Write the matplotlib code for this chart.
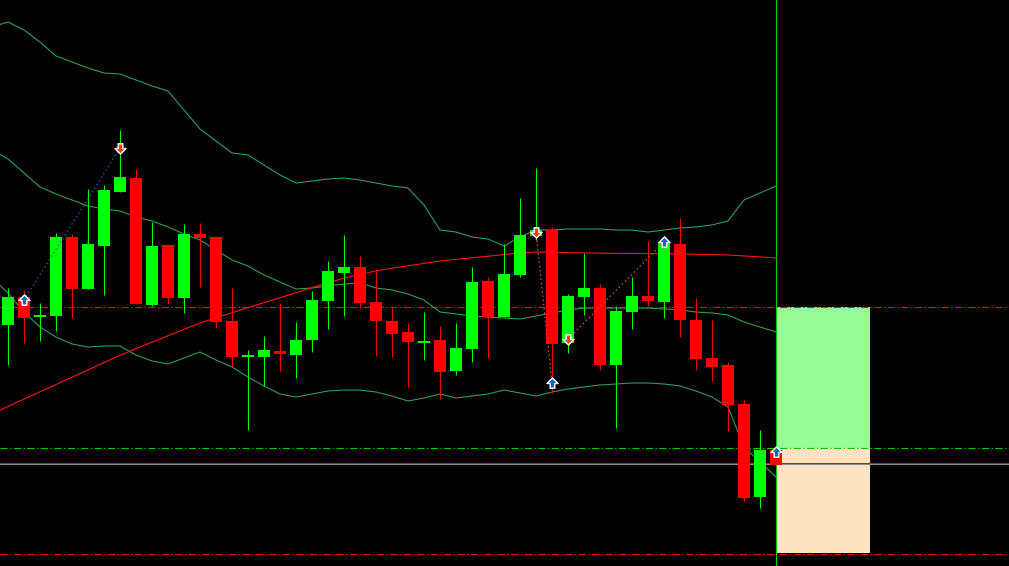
import numpy as np
import matplotlib
matplotlib.use("Agg")
import matplotlib.pyplot as plt
from matplotlib.path import Path
from matplotlib.patches import Rectangle

# candles (open, high, low, close), one per bar
opens = [275, 303, 284, 284, 363, 311, 354, 408, 422, 295, 355, 302, 366, 363, 279, 244,
         243, 249, 245, 260, 299, 327, 333, 298, 279, 268, 258, 260, 229, 251, 319, 283,
         325, 364, 370, 257, 303, 312, 235, 288, 304, 298, 356, 280, 242, 235, 196, 103, 150]
highs = [312, 310, 297, 367, 366, 411, 415, 470, 431, 378, 355, 376, 377, 363, 312, 250,
         264, 297, 278, 309, 339, 365, 344, 330, 293, 277, 288, 274, 277, 333, 323, 356,
         402, 432, 373, 306, 347, 316, 294, 323, 359, 364, 382, 302, 280, 238, 200, 170, 150]
lows = [235, 257, 259, 269, 282, 311, 305, 408, 296, 294, 296, 287, 313, 272, 233, 170,
        214, 229, 222, 248, 271, 284, 292, 244, 243, 213, 240, 201, 225, 238, 242, 283,
        323, 360, 207, 247, 285, 230, 172, 271, 294, 282, 263, 230, 219, 169, 99, 92, 135]
closes = [303, 282, 285, 363, 311, 356, 410, 423, 296, 354, 302, 366, 362, 278, 243, 245,
          250, 246, 260, 300, 329, 333, 297, 279, 266, 258, 259, 228, 252, 318, 283, 326,
          365, 370, 256, 304, 312, 235, 289, 304, 299, 358, 280, 241, 233, 195, 102, 150, 135]

# indicators, bar -1 .. 48
ma_line = [186, 193.6, 200.9, 208.2, 215.5, 222.8, 230.1, 237.4, 244.7, 251.4, 257.8, 264.2,
           270.6, 277, 282.1, 287.2, 292.4, 297.4, 302.3, 307.3, 312.3, 317.3, 321.9, 325.5,
           329.1, 331.8, 334.2, 336.6, 339, 340.6, 342.2, 343.8, 345.4, 347, 348, 347.6, 347.4,
           347.1, 346.9, 346.7, 346.6, 346.4, 346.3, 346.1, 345.8, 345.4, 345, 344.1, 343.1, 342]
bb_upper = [573, 578, 570, 558, 544, 538, 532, 527, 526, 520, 514, 509, 490, 471, 459, 447,
            445, 435, 425, 417, 419, 421, 422, 420, 417, 414, 412, 395, 370, 368, 363, 361,
            354, 363, 370, 370, 371, 371, 371, 370, 370, 368, 370, 372, 373, 375, 379, 400,
            407, 414]
bb_mid = [450, 441, 427, 413, 406, 400, 394, 391, 389, 383, 379, 373, 366, 360, 350, 340,
          334, 325, 318, 311, 312, 314, 316, 317, 312, 310, 306, 300, 288, 286, 284, 283,
          282, 281, 284, 287, 290, 292, 292, 292, 292, 292, 291, 290, 288, 287, 285, 278,
          273, 268]
bb_lower = [322, 307, 288, 273, 263, 256, 253, 254, 254, 245, 239, 236, 242, 248, 240, 233,
            223, 214, 206, 203, 206, 209, 210, 210, 208, 204, 199, 202, 206, 202, 204, 206,
            210, 207, 204, 208, 211, 213, 215, 216, 217, 217, 216, 214, 209, 203, 193, 153,
            138, 123]

# zigzag / signal arrows (bar, price)
up_bars = [1, 34, 41, 48]
up_prices = [300, 217, 358, 148]
down_bars = [7, 33, 35]
down_prices = [452, 368, 261]
zz_segments = [((1, 7), (300, 452), "#1f5fa8"),
               ((33, 34), (368, 217), "#e0502a"),
               ((35, 41), (261, 358), "#e0502a")]

# levels
entry_level = 152
tp_level = 293
sl_level = 46
price_red = 137
price_gray = 136
signal_bar = 48
box_end = 53.9

n = len(opens)
x = np.arange(n)
xi = np.arange(-1, n)

fig = plt.figure(figsize=(10.09, 5.66), dpi=100, facecolor="black")
ax = fig.add_axes([0, 0, 1, 1])
ax.set_facecolor("black")
ax.set_xlim(-0.5, 62.5625)
ax.set_ylim(34, 600)
ax.axis("off")

# trade boxes
ax.add_patch(Rectangle((signal_bar, entry_level), box_end - signal_bar, tp_level - entry_level,
                       facecolor="#98fb98", edgecolor="none", zorder=1))
ax.add_patch(Rectangle((signal_bar, sl_level + 1), box_end - signal_bar, entry_level - sl_level - 1,
                       facecolor="#ffe4c4", edgecolor="none", zorder=1))

dashdot = (0, (6.5, 2.2, 1.2, 2.2))
ax.axhline(tp_level, color="#ff0000", lw=0.8, ls=dashdot, zorder=2)
ax.axhline(entry_level, color="#00c800", lw=0.8, ls=dashdot, zorder=2)
ax.axhline(sl_level, color="#ff0000", lw=0.8, ls=dashdot, zorder=2)
ax.axhline(price_red, color="#ff0000", lw=0.8, zorder=2)
ax.axhline(price_gray, color="#8c8c8c", lw=0.8, zorder=2)
ax.axvline(signal_bar, color="#00d000", lw=0.8, zorder=2)

# indicators
band_col = "#2e9d5a"
ax.plot(xi, bb_upper, color=band_col, lw=0.8, zorder=3)
ax.plot(xi, bb_mid, color=band_col, lw=0.8, zorder=3)
ax.plot(xi, bb_lower, color=band_col, lw=0.8, zorder=3)
ax.plot(xi, ma_line, color="#ff1010", lw=0.8, zorder=3)

# candles
o = np.array(opens, float)
c = np.array(closes, float)
bull = c >= o
cols = np.where(bull, "#00ff00", "#ff0000")
ax.vlines(x, lows, highs, colors=cols, lw=0.8, zorder=4)
body = np.where(np.abs(c - o) < 1.5, 1.5, np.abs(c - o))
bottom = np.minimum(o, c)
bottom = np.where(np.abs(c - o) < 1.5, o - 0.75, bottom)
ax.bar(x, body, bottom=bottom, width=0.69, color=cols, edgecolor="none", zorder=5)

# zigzag
for (bx, py, col) in zz_segments:
    ax.plot(bx, py, color=col, lw=0.9, ls=(0, (1.2, 2.2)), zorder=6)

arrow_up = Path([(0, 1), (1, 0), (0.42, 0), (0.42, -0.85), (-0.42, -0.85),
                 (-0.42, 0), (-1, 0), (0, 1)], closed=True)
arrow_dn = Path([(0, -1), (1, 0), (0.42, 0), (0.42, 0.85), (-0.42, 0.85),
                 (-0.42, 0), (-1, 0), (0, -1)], closed=True)
ax.plot(up_bars, up_prices, ls="none", marker=arrow_up, ms=8, mfc="#1565c0",
        mec="white", mew=1.0, zorder=7)
ax.plot(down_bars, down_prices, ls="none", marker=arrow_dn, ms=8, mfc="#e8401c",
        mec="white", mew=1.0, zorder=7)

fig.savefig("out.png", dpi=100, facecolor="black")
